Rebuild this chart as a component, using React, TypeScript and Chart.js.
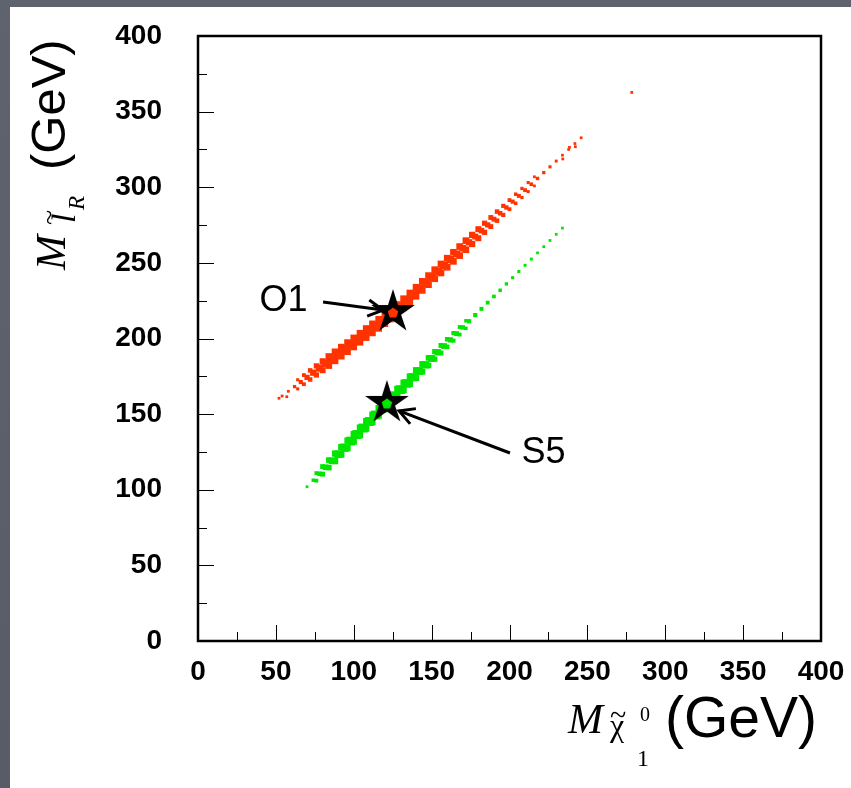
import React, { useEffect, useRef } from "react";
import { Chart, registerables } from "chart.js";

Chart.register(...registerables);

// ---------- axes ----------
const AXIS_MIN = 0;
const AXIS_MAX = 400;
const MAJOR_STEP = 50;
const MINOR_STEP = 25;

// ---------- data: [x = M(neutralino) GeV, y = M(slepton R) GeV, relative bin weight] ----------
const redCore: number[][] = [
  [54, 162, 1], [58, 165.1, 1], [62, 168.2, 1.3], [66, 171.2, 1.8], [70, 174.3, 2.4],
  [74, 177.4, 3], [78, 180.5, 3.6], [82, 183.6, 4], [86, 186.6, 4.3], [90, 189.7, 4.4],
  [94, 192.8, 4.5], [98, 195.9, 4.5], [102, 199, 4.5], [106, 202, 4.5], [110, 205.1, 4.5],
  [114, 208.2, 4.5], [118, 211.3, 4.5], [122, 214.4, 4.5], [126, 217.5, 4.5], [130, 221.3, 4.5],
  [134, 225.2, 4.5], [138, 229, 4.5], [142, 232.9, 4.4], [146, 236.7, 4.3], [150, 240.5, 4.2],
  [154, 244.4, 4], [158, 248.2, 3.8], [162, 252.1, 3.6], [166, 255.9, 3.4], [170, 259.7, 3.2],
  [174, 263.6, 3], [178, 267.4, 2.8], [182, 271.3, 2.6], [186, 275.1, 2.4], [190, 278.9, 2.2],
  [194, 282.8, 2], [198, 286.6, 1.9], [202, 290.5, 1.8], [206, 294.3, 1.7], [210, 298.1, 1.6],
  [214, 302, 1.5], [218, 305.8, 1.4], [222, 309.7, 1.3], [226, 313.5, 1.2], [230, 317.3, 1.1],
  [234, 321.2, 1], [238, 325, 1], [242, 328.9, 1], [246, 332.7, 1]
];
const redUpper: number[][] = [
  [64, 172.7, 1.2], [68, 175.8, 1.6], [72, 178.9, 2], [76, 181.9, 2.4], [80, 185, 2.8],
  [84, 188.1, 3.2], [88, 191.2, 3.2], [92, 194.3, 3.2], [96, 197.3, 3.2], [100, 200.4, 3.2],
  [104, 203.5, 3.2], [108, 206.6, 3.2], [112, 209.7, 3.2], [116, 212.7, 3.2], [120, 215.8, 3.2],
  [124, 218.9, 3.2], [128, 222.4, 3.2], [132, 226.3, 3.2], [136, 230.1, 3.2], [140, 233.9, 3.2],
  [144, 237.8, 3.2], [148, 241.6, 3.2], [152, 245.5, 3.2], [156, 249.3, 3.2], [160, 253.1, 3.2],
  [164, 257, 3.2], [168, 260.8, 3.2], [172, 264.7, 3.2], [176, 268.5, 3], [180, 272.3, 2.8],
  [184, 276.2, 2.4], [188, 280, 2.2], [192, 283.9, 2], [196, 287.7, 1.8], [200, 291.5, 1.6],
  [204, 295.4, 1.4], [208, 299.2, 1.3], [212, 303.1, 1.2], [216, 306.9, 1]
];
const redLower: number[][] = [
  [64, 166.7, 1.2], [68, 169.8, 1.6], [72, 172.9, 2], [76, 175.9, 2.4], [80, 179, 2.8],
  [84, 182.1, 3.2], [88, 185.2, 3.2], [92, 188.3, 3.2], [96, 191.3, 3.2], [100, 194.4, 3.2],
  [104, 197.5, 3.2], [108, 200.6, 3.2], [112, 203.7, 3.2], [116, 206.7, 3.2], [120, 209.8, 3.2],
  [124, 212.9, 3.2], [128, 216.4, 3.2], [132, 220.3, 3.2], [136, 224.1, 3.2], [140, 227.9, 3.2],
  [144, 231.8, 3.2], [148, 235.6, 3.2], [152, 239.5, 3.2], [156, 243.3, 3.2], [160, 247.1, 3.2],
  [164, 251, 3.2], [168, 254.8, 3.2], [172, 258.7, 3.2], [176, 262.5, 3], [180, 266.3, 2.8],
  [184, 270.2, 2.4], [188, 274, 2.2], [192, 277.9, 2], [196, 281.7, 1.8], [200, 285.5, 1.6],
  [204, 289.4, 1.4], [208, 293.2, 1.3], [212, 297.1, 1.2], [216, 300.9, 1]
];
const redStray: number[][] = [
  [278.5, 362.7, 1], [238.5, 326.4, 1], [242.3, 326.8, 1], [234.2, 318.7, 1],
  [52, 160.5, 1], [57, 161.5, 1]
];

const greenCore: number[][] = [
  [70, 102, 1], [74, 106.3, 1.4], [78, 110.6, 2], [82, 114.9, 2.6], [86, 119.2, 3.2],
  [90, 123.5, 3.8], [94, 127.8, 4.2], [98, 132.2, 4.4], [102, 136.5, 4.5], [106, 140.8, 4.5],
  [110, 145.1, 4.5], [114, 149.4, 4.5], [118, 153.7, 4.5], [122, 158, 4.5], [126, 162.1, 4.5],
  [130, 166.2, 4.4], [134, 170.3, 4.3], [138, 174.4, 4.1], [142, 178.5, 3.9], [146, 182.6, 3.6],
  [150, 186.8, 3.3], [154, 190.9, 3], [158, 195, 2.7], [162, 199.1, 2.4], [166, 203.2, 2.2],
  [170, 207.3, 2], [174, 211.4, 1.9], [178, 215.5, 1.8], [182, 219.6, 1.7], [186, 223.7, 1.6],
  [190, 227.8, 1.5], [194, 231.9, 1.4], [198, 236.1, 1.3], [202, 240.2, 1.2], [206, 244.3, 1.2],
  [210, 248.4, 1.1], [214, 252.5, 1.1], [218, 256.6, 1], [222, 260.7, 1], [226, 264.8, 1],
  [230, 268.9, 1], [234, 273, 1]
];
const greenUpper: number[][] = [
  [76, 111, 1.6], [80, 115.3, 2.2], [84, 119.6, 2.6], [88, 123.9, 3], [92, 128.2, 3],
  [96, 132.5, 3], [100, 136.8, 3], [104, 141.1, 3], [108, 145.4, 3], [112, 149.7, 3],
  [116, 154, 3], [120, 158.3, 3], [124, 162.6, 3], [128, 166.7, 3], [132, 170.8, 3],
  [136, 174.9, 3], [140, 179, 3], [144, 183.1, 2.8], [148, 187.2, 2.6], [152, 191.3, 2.4],
  [156, 195.4, 2.2], [160, 199.5, 2], [164, 203.6, 1.8], [168, 207.6, 1.6], [172, 211.7, 1.4]
];
const greenLower: number[][] = [
  [76, 106, 1.6], [80, 110.3, 2.2], [84, 114.6, 2.6], [88, 118.9, 3], [92, 123.2, 3],
  [96, 127.5, 3], [100, 131.8, 3], [104, 136.1, 3], [108, 140.4, 3], [112, 144.7, 3],
  [116, 149, 3], [120, 153.3, 3], [124, 157.6, 3], [128, 161.7, 3], [132, 165.8, 3],
  [136, 169.9, 3], [140, 174, 3], [144, 178.1, 2.8], [148, 182.2, 2.6], [152, 186.3, 2.4],
  [156, 190.4, 2.2], [160, 194.5, 2], [164, 198.6, 1.8], [168, 202.6, 1.6], [172, 206.7, 1.4]
];

// ---------- benchmark points ----------
const benchmarkNames = ["O1", "S5"];
const benchmarkX = [125.2, 121.3];
const benchmarkY = [217.5, 157.4];
const labelX = [54.9, 221.8];
const labelY = [224.5, 124.3];
const arrowFromX = [80.3, 200.3];
const arrowFromY = [224.1, 124.3];
const arrowToX = [118.8, 129.1];
const arrowToY = [218.8, 152.1];

const RED = "#ff3300";
const GREEN = "#00e600";
const benchmarkColors = [RED, GREEN];

// marker size from bin weight
const weightToRadius = (w: number) => 0.7 + w * 1.25;

function makeStar(color: string): HTMLCanvasElement {
  const c = document.createElement("canvas");
  c.width = 52;
  c.height = 52;
  const ctx = c.getContext("2d")!;
  const cx = 26, cy = 26, ro = 23, ri = 8.5;
  ctx.beginPath();
  for (let i = 0; i < 10; i++) {
    const r = i % 2 === 0 ? ro : ri;
    const a = -Math.PI / 2 + (i * Math.PI) / 5;
    const px = cx + r * Math.cos(a);
    const py = cy + r * Math.sin(a);
    if (i === 0) ctx.moveTo(px, py);
    else ctx.lineTo(px, py);
  }
  ctx.closePath();
  ctx.fillStyle = "#000";
  ctx.fill();
  ctx.beginPath();
  for (let i = 0; i < 5; i++) {
    const a = -Math.PI / 2 + (i * 2 * Math.PI) / 5;
    const px = cx + 5.5 * Math.cos(a);
    const py = cy + 1 + 5.5 * Math.sin(a);
    if (i === 0) ctx.moveTo(px, py);
    else ctx.lineTo(px, py);
  }
  ctx.closePath();
  ctx.fillStyle = color;
  ctx.fill();
  return c;
}

const SANS = "'Liberation Sans', Arial, Helvetica, sans-serif";
const SERIF = "'Liberation Serif', 'Times New Roman', serif";

const framePlugin = {
  id: "frameAndTicks",
  afterDatasetsDraw(chart: any) {
    const { ctx, chartArea, scales } = chart;
    const xs = scales.x, ys = scales.y;
    ctx.save();
    // inward ticks
    ctx.strokeStyle = "#000";
    ctx.lineWidth = 1;
    for (let v = AXIS_MIN; v <= AXIS_MAX; v += MINOR_STEP) {
      const len = v % MAJOR_STEP === 0 ? 16 : 9;
      const px = Math.round(xs.getPixelForValue(v)) + 0.5;
      ctx.beginPath();
      ctx.moveTo(px, chartArea.bottom);
      ctx.lineTo(px, chartArea.bottom - len);
      ctx.stroke();
      const py = Math.round(ys.getPixelForValue(v)) + 0.5;
      ctx.beginPath();
      ctx.moveTo(chartArea.left, py);
      ctx.lineTo(chartArea.left + len, py);
      ctx.stroke();
    }
    // frame
    ctx.lineWidth = 2.5;
    ctx.strokeRect(chartArea.left, chartArea.top, chartArea.right - chartArea.left, chartArea.bottom - chartArea.top);

    // annotations: arrows + labels
    ctx.lineWidth = 3;
    ctx.lineCap = "butt";
    for (let i = 0; i < benchmarkNames.length; i++) {
      const x0 = xs.getPixelForValue(arrowFromX[i]);
      const y0 = ys.getPixelForValue(arrowFromY[i]);
      const x1 = xs.getPixelForValue(arrowToX[i]);
      const y1 = ys.getPixelForValue(arrowToY[i]);
      const ang = Math.atan2(y1 - y0, x1 - x0);
      ctx.beginPath();
      ctx.moveTo(x0, y0);
      ctx.lineTo(x1, y1);
      ctx.stroke();
      const hl = 17, ha = 0.5;
      ctx.beginPath();
      ctx.moveTo(x1 - hl * Math.cos(ang - ha), y1 - hl * Math.sin(ang - ha));
      ctx.lineTo(x1, y1);
      ctx.lineTo(x1 - hl * Math.cos(ang + ha), y1 - hl * Math.sin(ang + ha));
      ctx.stroke();
      ctx.fillStyle = "#000";
      ctx.font = `36px ${SANS}`;
      ctx.textAlign = "center";
      ctx.textBaseline = "middle";
      ctx.fillText(benchmarkNames[i], xs.getPixelForValue(labelX[i]), ys.getPixelForValue(labelY[i]));
    }

    // x axis title: M_{chi~^0_1} (GeV)
    ctx.fillStyle = "#000";
    ctx.textAlign = "left";
    ctx.textBaseline = "alphabetic";
    const xb = chartArea.bottom + 92;
    const xl = chartArea.right - 253;
    ctx.font = `italic 42px ${SERIF}`;
    ctx.fillText("M", xl, xb);
    ctx.font = `32px ${SERIF}`;
    ctx.fillText("\u03C7", xl + 42, xb + 3);
    ctx.font = `30px ${SERIF}`;
    ctx.fillText("~", xl + 42, xb - 8);
    ctx.font = `20px ${SERIF}`;
    ctx.fillText("0", xl + 72, xb - 12);
    ctx.font = `24px ${SERIF}`;
    ctx.fillText("1", xl + 69, xb + 33);
    ctx.font = `57px ${SANS}`;
    ctx.fillText("(GeV)", xl + 97, xb + 4);

    // y axis title (rotated): M_{l~_R} (GeV)
    ctx.save();
    ctx.translate(chartArea.left - 133, chartArea.top + 234);
    ctx.rotate(-Math.PI / 2);
    ctx.font = `italic 42px ${SERIF}`;
    ctx.fillText("M", 0, 0);
    ctx.font = `italic 34px ${SERIF}`;
    ctx.fillText("l", 47, 10);
    ctx.font = `28px ${SERIF}`;
    ctx.fillText("~", 45, -7);
    ctx.font = `italic 23px ${SERIF}`;
    ctx.fillText("R", 60, 19);
    ctx.font = `49px ${SANS}`;
    ctx.fillText("(GeV)", 100, 0);
    ctx.restore();

    ctx.restore();
  },
};

export default function App() {
  const ref = useRef<HTMLCanvasElement>(null);

  useEffect(() => {
    if (!ref.current) return;
    const tickFont = { family: SANS, size: 28, weight: "bold" as const };
    const bandDataset = (rows: number[][], color: string, label: string) => ({
      label,
      data: rows.map((r) => ({ x: r[0], y: r[1] })),
      pointRadius: rows.map((r) => weightToRadius(r[2])),
      pointHoverRadius: rows.map((r) => weightToRadius(r[2])),
      pointStyle: "rect",
      backgroundColor: color,
      borderWidth: 0,
      showLine: false,
    });
    const noPad = (s: any) => {
      s.paddingTop = 0;
      s.paddingBottom = 0;
      s.paddingLeft = 0;
      s.paddingRight = 0;
    };
    const chart = new Chart(ref.current, {
      type: "scatter",
      data: {
        datasets: [
          {
            label: "benchmarks",
            data: benchmarkX.map((x, i) => ({ x, y: benchmarkY[i] })),
            pointStyle: benchmarkColors.map((c) => makeStar(c)) as any,
            pointRadius: 23,
            backgroundColor: "#000",
            borderWidth: 0,
            showLine: false,
          },
          bandDataset(redCore, RED, "red core"),
          bandDataset(redUpper, RED, "red upper"),
          bandDataset(redLower, RED, "red lower"),
          bandDataset(redStray, RED, "red stray"),
          bandDataset(greenCore, GREEN, "green core"),
          bandDataset(greenUpper, GREEN, "green upper"),
          bandDataset(greenLower, GREEN, "green lower"),
        ] as any,
      },
      options: {
        responsive: false,
        animation: false,
        devicePixelRatio: 1,
        layout: { padding: { top: 29, right: 30, left: 0, bottom: 0 } },
        plugins: {
          legend: { display: false },
          tooltip: { enabled: false },
        },
        scales: {
          x: {
            type: "linear",
            min: AXIS_MIN,
            max: AXIS_MAX,
            grid: { display: false, drawTicks: false },
            border: { display: false },
            ticks: { stepSize: MAJOR_STEP, font: tickFont, color: "#000", padding: 14, maxRotation: 0, autoSkip: false },
            afterFit: (s: any) => { s.height = 147; noPad(s); },
          },
          y: {
            type: "linear",
            min: AXIS_MIN,
            max: AXIS_MAX,
            grid: { display: false, drawTicks: false },
            border: { display: false },
            ticks: { stepSize: MAJOR_STEP, font: tickFont, color: "#000", padding: 36, autoSkip: false },
            afterFit: (s: any) => { s.width = 188; noPad(s); },
          },
        },
      } as any,
      plugins: [framePlugin],
    });
    return () => chart.destroy();
  }, []);

  return (
    <div
      style={{
        position: "fixed",
        left: 0,
        top: 0,
        width: 851,
        height: 788,
        background: "linear-gradient(180deg, #5f636d 0%, #585c66 100%)",
        overflow: "hidden",
      }}
    >
      <canvas
        ref={ref}
        width={841}
        height={781}
        style={{ position: "absolute", left: 10, top: 7, width: 841, height: 781, background: "#ffffff" }}
      />
    </div>
  );
}
